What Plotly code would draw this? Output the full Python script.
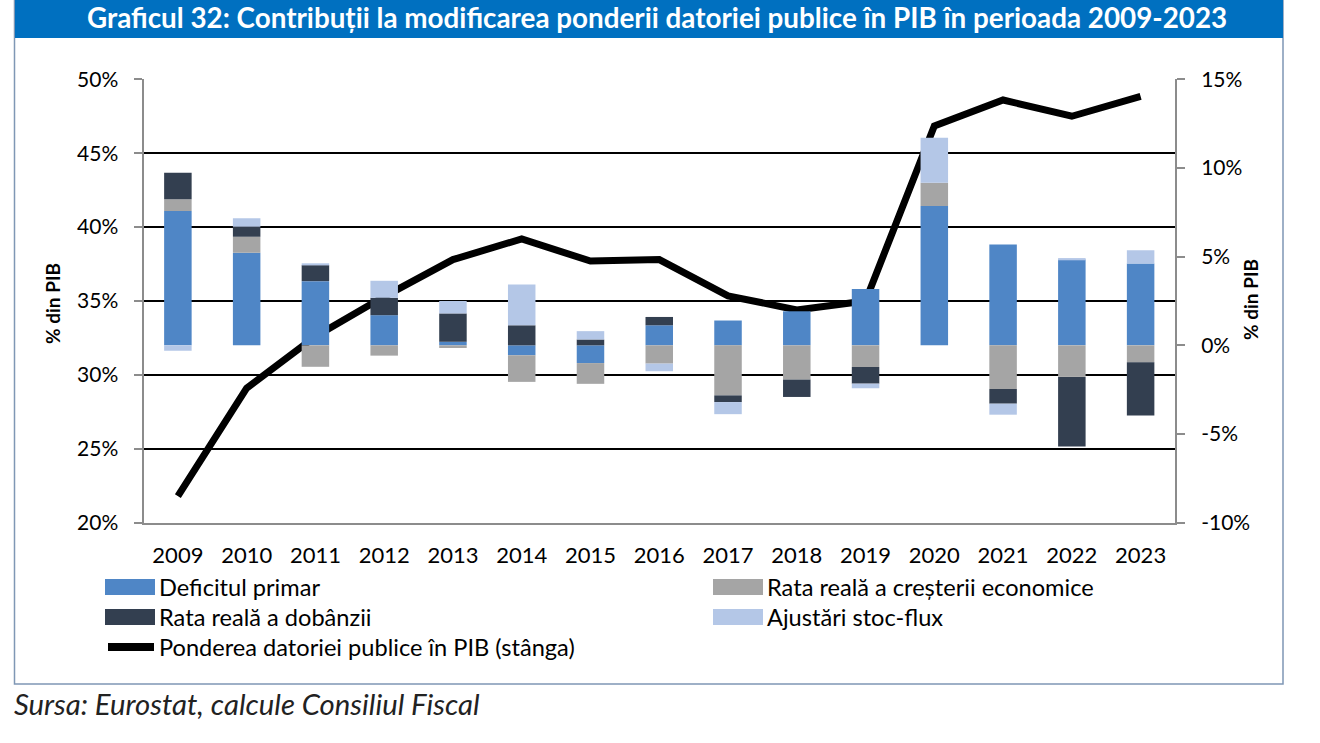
import plotly.graph_objects as go

W, H = 1320, 743

years = [str(y) for y in range(2009, 2024)]
deficit_primar = [7.57, 5.22, 3.62, 1.70, 0.20, -0.56, -1.00, 1.13, 1.40, 1.92, 3.18, 7.85, 5.68, 4.84, 4.61]
crestere = [0.66, 0.90, -1.21, -0.58, -0.15, -1.50, -1.17, -1.03, -2.82, -1.93, -1.22, 1.32, -2.46, -1.78, -0.96]
dobanda = [1.50, 0.56, 0.90, 0.98, 1.60, 1.13, 0.33, 0.47, -0.38, -0.98, -0.94, 0.0, -0.83, -3.93, -3.00]
stoc_flux = [-0.30, 0.49, 0.10, 0.96, 0.70, 2.30, 0.47, -0.43, -0.68, 0.0, -0.26, 2.54, -0.62, 0.08, 0.75]
datorie = [21.8, 29.1, 32.6, 35.3, 37.8, 39.2, 37.7, 37.8, 35.35, 34.4, 35.0, 46.85, 48.6, 47.5, 48.85]

left_ticks = [20, 25, 30, 35, 40, 45, 50]
right_ticks = [-10, -5, 0, 5, 10, 15]

series_names = ["Deficitul primar", "Rata reală a creșterii economice",
                "Rata reală a dobânzii", "Ajustări stoc-flux"]
series_vals = [deficit_primar, crestere, dobanda, stoc_flux]
colors = ["#4F86C6", "#A5A5A5", "#333F50", "#B4C7E7"]
line_name = "Ponderea datoriei publice în PIB (stânga)"

FONT = "Lato"

def px(x):
    return x / W

def py(y):
    return 1 - y / H

fig = go.Figure()
for name, vals, col in zip(series_names, series_vals, colors):
    fig.add_trace(go.Bar(x=years, y=vals, name=name, marker=dict(color=col, line=dict(width=0)),
                         width=0.4, yaxis="y2", showlegend=False))
fig.add_trace(go.Scatter(x=years, y=datorie, name=line_name, mode="lines",
                         line=dict(color="black", width=7), yaxis="y", showlegend=False))

shapes = []
annotations = []
# frame and title bar
shapes.append(dict(type="rect", xref="paper", yref="paper", x0=px(14.5), x1=px(1283), y0=py(684), y1=py(0),
                   line=dict(color="#7F97B5", width=1.5), fillcolor="rgba(0,0,0,0)", layer="below"))
shapes.append(dict(type="rect", xref="paper", yref="paper", x0=px(15), x1=px(1283), y0=py(38), y1=py(-5),
                   line=dict(width=0), fillcolor="#0070C0", layer="below"))
annotations.append(dict(xref="paper", yref="paper", x=px(657), y=py(17), xanchor="center", yanchor="middle",
                        text="<b>Graficul 32: Contribuții la modificarea ponderii datoriei publice în PIB în perioada 2009-2023</b>",
                        showarrow=False, font=dict(family=FONT, size=27.8, color="white")))
# axis titles
annotations.append(dict(xref="paper", yref="paper", x=px(52), y=py(303), xanchor="center", yanchor="middle",
                        text="<b>% din PIB</b>", textangle=-90, showarrow=False,
                        font=dict(family=FONT, size=19, color="black")))
annotations.append(dict(xref="paper", yref="paper", x=px(1250), y=py(300), xanchor="center", yanchor="middle",
                        text="<b>% din PIB</b>", textangle=-90, showarrow=False,
                        font=dict(family=FONT, size=19, color="black")))
# legend (manual)
leg_items = [(105, 587, 0), (713, 587, 1), (105, 617, 2), (713, 617, 3)]
for (lx, ly, i) in leg_items:
    shapes.append(dict(type="rect", xref="paper", yref="paper", x0=px(lx), x1=px(lx + 50),
                       y0=py(ly + 8), y1=py(ly - 8), line=dict(width=0), fillcolor=colors[i]))
    annotations.append(dict(xref="paper", yref="paper", x=px(lx + 52), y=py(ly), xanchor="left", yanchor="middle",
                            text=series_names[i], showarrow=False,
                            font=dict(family=FONT, size=23.6, color="black")))
shapes.append(dict(type="line", xref="paper", yref="paper", x0=px(108), x1=px(154), y0=py(647), y1=py(647),
                   line=dict(color="black", width=8)))
annotations.append(dict(xref="paper", yref="paper", x=px(157), y=py(647), xanchor="left", yanchor="middle",
                        text=line_name, showarrow=False, font=dict(family=FONT, size=23.6, color="black")))
# source
annotations.append(dict(xref="paper", yref="paper", x=px(12), y=py(703), xanchor="left", yanchor="middle",
                        text="<i>Sursa: Eurostat, calcule Consiliul Fiscal</i>", showarrow=False,
                        font=dict(family=FONT, size=29.3, color="#222222")))

fig.update_layout(
    width=W, height=H, margin=dict(l=0, r=0, t=0, b=0, autoexpand=False),
    paper_bgcolor="white", plot_bgcolor="white",
    barmode="relative", bargap=0.6,
    font=dict(family=FONT, size=20, color="black"),
    shapes=shapes, annotations=annotations,
    xaxis=dict(domain=[px(143.5), px(1175)], type="category", range=[-0.5, 14.5], automargin=False,
               showline=True, linecolor="#8C8C8C", linewidth=2, ticks="", showgrid=False,
               tickfont=dict(family=FONT, size=22, color="black"), ticklabelstandoff=12),
    yaxis=dict(domain=[py(522.7), py(79.3)], range=[20, 50], tickvals=left_ticks, automargin=False,
               ticktext=[f"{v}%" for v in left_ticks],
               showline=True, linecolor="#8C8C8C", linewidth=2, ticks="outside", ticklen=8,
               tickcolor="#8C8C8C", tickwidth=1.5,
               showgrid=True, gridcolor="black", gridwidth=1.5, zeroline=False,
               tickfont=dict(family=FONT, size=21, color="black"), ticklabelstandoff=11),
    yaxis2=dict(overlaying="y", side="right", range=[-10, 15], tickvals=right_ticks, automargin=False,
                ticktext=[f"{v}%" for v in right_ticks],
                showline=True, linecolor="#8C8C8C", linewidth=2, ticks="outside", ticklen=8,
                tickcolor="#8C8C8C", tickwidth=1.5, showgrid=False, zeroline=False,
                tickfont=dict(family=FONT, size=21, color="black"), ticklabelstandoff=12),
)

fig.write_html("out.html")
